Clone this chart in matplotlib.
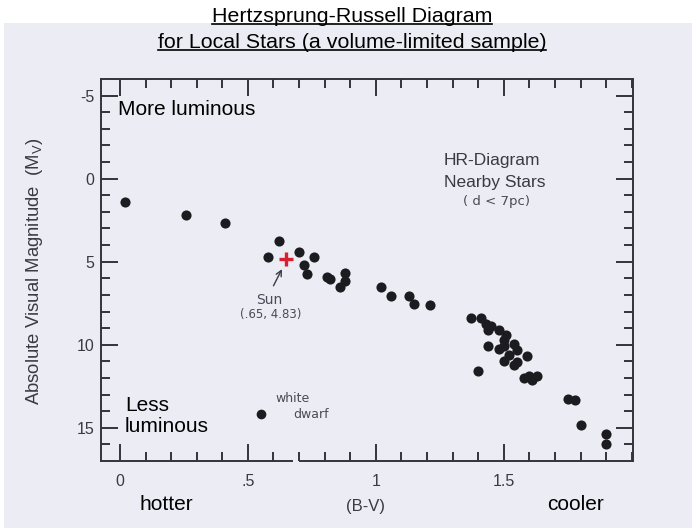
import matplotlib
matplotlib.use('Agg')
import matplotlib.pyplot as plt
from matplotlib.patches import Rectangle
from matplotlib.lines import Line2D

plt.rcParams['font.family'] = ['Liberation Sans', 'DejaVu Sans']

# nearby stars: colour index (B-V) and absolute visual magnitude
bv = [0.02, 0.26, 0.41, 0.62, 0.58, 0.70, 0.76, 0.72, 0.73, 0.81, 0.82, 0.88, 0.88, 0.86,
      1.02, 1.06, 1.13, 1.15, 1.21,
      1.37, 1.41, 1.43, 1.45, 1.44, 1.48, 1.51, 1.50, 1.44, 1.48, 1.50, 1.54, 1.55, 1.52,
      1.59, 1.50, 1.54, 1.55, 1.40, 1.58, 1.60, 1.61, 1.63,
      1.75, 1.78, 1.80, 1.90, 1.90]
mv = [1.4, 2.2, 2.67, 3.73, 4.74, 4.42, 4.74, 5.2, 5.72, 5.95, 6.02, 5.66, 6.17, 6.52,
      6.55, 7.05, 7.05, 7.55, 7.58,
      8.39, 8.39, 8.75, 8.9, 9.1, 9.1, 9.4, 9.7, 10.06, 10.26, 10.1, 9.96, 10.34, 10.6,
      10.66, 11.0, 11.2, 11.06, 11.57, 12.0, 11.9, 12.1, 11.9,
      13.27, 13.31, 14.82, 15.36, 15.96]

wd_bv = [0.55]
wd_mv = [14.2]

sun_bv = 0.65
sun_mv = 4.83

xtick_pos = [0, 0.5, 1, 1.5]
xtick_lab = ['0', '.5', '1', '1.5']
ytick_pos = [-5, 0, 5, 10, 15]
ytick_lab = ['-5', '0', '5', '10', '15']

W, H = 698, 532
paper = '#ececf4'
ink = '#3a3a42'

def fx(px):
    return px / W

def fy(py):
    return 1 - py / H

fig = plt.figure(figsize=(W / 100, H / 100), dpi=100)
fig.patch.set_facecolor('white')
fig.patches.append(Rectangle((fx(4), fy(528)), fx(692) - fx(4), fy(23) - fy(528),
                             transform=fig.transFigure, facecolor=paper, edgecolor='none', zorder=-5))

ax = fig.add_axes([fx(101), fy(461), fx(633) - fx(101), fy(79) - fy(461)])
ax.set_facecolor(paper)
ax.set_xlim(-0.074, 2.005)
ax.set_ylim(17.0, -6.0)

ax.plot(bv, mv, 'o', color='#1c1c20', ms=7.3, mec='none')
ax.plot(wd_bv, wd_mv, 'o', color='#1c1c20', ms=7.0, mec='none')
ax.plot([sun_bv], [sun_mv], '+', color='#d9202e', ms=9.5, mew=2.4)

# frame and ticks on all four sides, pointing inwards
for side in ['left', 'right', 'top']:
    ax.spines[side].set_linewidth(1.4)
    ax.spines[side].set_color('#333338')
ax.spines['bottom'].set_visible(False)
tr = ax.get_xaxis_transform()
ax.plot([-0.074, 0.672], [0, 0], color='#333338', lw=1.4, transform=tr, clip_on=False)
ax.plot([0.705, 2.005], [0, 0], color='#333338', lw=1.4, transform=tr, clip_on=False)

ax.set_xticks(xtick_pos)
ax.set_xticklabels(xtick_lab)
ax.set_xticks([i / 10 for i in range(0, 21)], minor=True)
ax.set_yticks(ytick_pos)
ax.set_yticklabels(ytick_lab)
ax.set_yticks(list(range(-5, 17)), minor=True)
ax.tick_params(which='both', direction='in', top=True, right=True, color='#333338', width=1.4,
               labelcolor=ink, labelsize=11.5)
ax.tick_params(which='major', length=12)
ax.tick_params(which='minor', length=6.5)
ax.tick_params(axis='x', which='major', pad=9)
ax.tick_params(axis='y', which='major', pad=5)

# handwritten notes
hand = dict(family='DejaVu Sans', color='#4a4a58')
ax.annotate('', xy=(0.638, 5.3), xytext=(0.595, 6.6),
            arrowprops=dict(arrowstyle='->', color='#3a3a48', lw=1.0))
ax.text(0.585, 7.3, 'Sun', fontsize=10, ha='center', va='center', **hand)
ax.text(0.59, 8.2, '(.65, 4.83)', fontsize=8.5, ha='center', va='center', **hand)
ax.text(0.675, 13.25, 'white', fontsize=9, ha='center', va='center', **hand)
ax.text(0.745, 14.2, 'dwarf', fontsize=9, ha='center', va='center', **hand)

ax.text(1.452, -1.1, 'HR-Diagram', fontsize=12.5, ha='center', va='center', color=ink)
ax.text(1.465, 0.22, 'Nearby Stars', fontsize=12.5, ha='center', va='center', color=ink)
ax.text(1.47, 1.35, '( d < 7pc)', fontsize=9.5, ha='center', va='center', **hand)

ax.text(-0.008, -4.16, 'More luminous', fontsize=15, ha='left', va='center', color='black')
ax.text(0.02, 14.28, 'Less\nluminous', fontsize=15, ha='left', va='center', color='black',
        linespacing=1.15)

fig.text(fx(35), fy(271), 'Absolute Visual Magnitude  ($\\mathregular{M_V}$)', rotation=90,
         fontsize=13.3, ha='center', va='center', color=ink)
fig.text(fx(166), fy(505), 'hotter', fontsize=15, ha='center', va='center', color='black')
fig.text(fx(576), fy(505), 'cooler', fontsize=15, ha='center', va='center', color='black')
fig.text(fx(366), fy(507), '(B-V)', fontsize=12, ha='center', va='center', color=ink)

# underlined two-line title
titles = [fig.text(fx(352), fy(22), 'Hertzsprung-Russell Diagram', fontsize=15.4,
                   ha='center', va='baseline', color='black'),
          fig.text(fx(352), fy(48), 'for Local Stars (a volume-limited sample)', fontsize=15.4,
                   ha='center', va='baseline', color='black')]
fig.canvas.draw()
r = fig.canvas.get_renderer()
for t, base in zip(titles, [22, 48]):
    bb = t.get_window_extent(r)
    fig.lines.append(Line2D([bb.x0 / W, bb.x1 / W], [fy(base + 2), fy(base + 2)],
                            transform=fig.transFigure, color='black', lw=1.2))

fig.savefig('out.png', dpi=100)
